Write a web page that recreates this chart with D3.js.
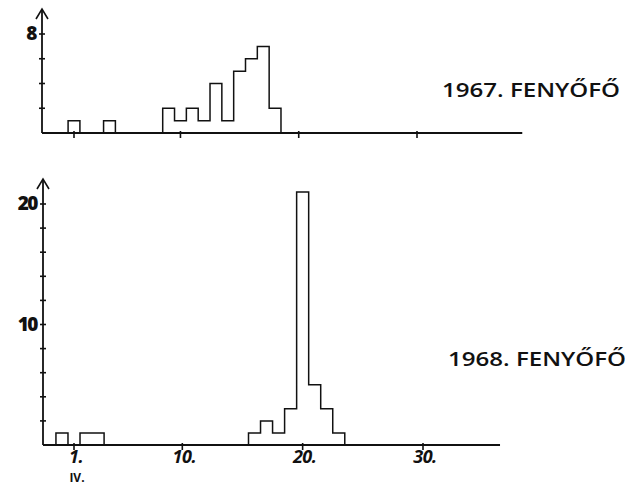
<!DOCTYPE html>
<html>
<head>
<meta charset="utf-8">
<script src="https://cdn.jsdelivr.net/npm/d3@7/dist/d3.min.js"></script>
<style>
  html, body { margin: 0; padding: 0; background: #fff; }
  svg { display: block; }
  text { fill: #111; }
</style>
</head>
<body>
<svg id="chart" width="625" height="486"></svg>
<script>
// Daily catch counts, April (day 0 = 31 March)
const days1967   = [1, 4, 9, 10, 11, 12, 13, 14, 15, 16, 17, 18];
const counts1967 = [1, 1, 2, 1, 2, 1, 4, 1, 5, 6, 7, 2];
const days1968   = [0, 2, 3, 16, 17, 18, 19, 20, 21, 22, 23];
const counts1968 = [1, 1, 1, 1, 2, 1, 3, 21, 5, 3, 1];

const xTickDays   = [1, 10, 20, 30];
const xTickLabels = ["1.", "10.", "20.", "30."];
const monthLabel  = "IV.";

const yTicks1967  = [2, 4, 6, 8];
const yLabels1967 = [8];
const yTicks1968  = [2, 4, 6, 8, 10, 12, 14, 16, 18, 20];
const yLabels1968 = [10, 20];

const titles = ["1967. FENYŐFŐ", "1968. FENYŐFŐ"];

const svg = d3.select("#chart");
const ink = "#111";

const panels = [
  {
    days: days1967, counts: counts1967, title: titles[0],
    x: d3.scaleLinear().domain([1, 30]).range([74, 417]),
    y: d3.scaleLinear().domain([0, 8]).range([133, 34]),
    axisX: 42, axisRightDay: 38.9, arrowTop: 9,
    yTicks: yTicks1967, yLabels: yLabels1967,
    titlePos: [442, 97], showXLabels: false
  },
  {
    days: days1968, counts: counts1968, title: titles[1],
    x: d3.scaleLinear().domain([1, 30]).range([74, 423]),
    y: d3.scaleLinear().domain([0, 20]).range([445, 204]),
    axisX: 43, axisRightDay: 36.4, arrowTop: 179,
    yTicks: yTicks1968, yLabels: yLabels1968,
    titlePos: [448, 366], showXLabels: true
  }
];

const line = d3.line();

panels.forEach(p => {
  const g = svg.append("g");
  const y0 = p.y(0);

  // x axis line and ticks
  g.append("line")
    .attr("x1", p.axisX).attr("x2", p.x(p.axisRightDay))
    .attr("y1", y0).attr("y2", y0)
    .attr("stroke", ink).attr("stroke-width", 1.8);

  g.selectAll(".xt").data(xTickDays).join("line")
    .attr("x1", d => p.x(d)).attr("x2", d => p.x(d))
    .attr("y1", y0 - 2).attr("y2", y0 + 5)
    .attr("stroke", ink).attr("stroke-width", 1.6);

  if (p.showXLabels) {
    g.selectAll(".xl").data(xTickDays).join("text")
      .attr("x", d => p.x(d) + 2).attr("y", y0 + 18)
      .attr("text-anchor", "middle")
      .attr("font-family", "'Open Sans', sans-serif")
      .attr("font-style", "italic").attr("font-weight", 700)
      .attr("font-size", 18)
      .attr("letter-spacing", -0.5)
      .text((d, i) => xTickLabels[i]);
    g.append("text")
      .attr("x", p.x(1) + 3).attr("y", y0 + 37)
      .attr("text-anchor", "middle")
      .attr("font-family", "'Open Sans', sans-serif")
      .attr("font-weight", 700).attr("font-size", 12)
      .text(monthLabel);
  }

  // y axis with arrow
  g.append("line")
    .attr("x1", p.axisX).attr("x2", p.axisX)
    .attr("y1", y0).attr("y2", p.arrowTop)
    .attr("stroke", ink).attr("stroke-width", 1.8);
  g.append("path")
    .attr("d", line([[p.axisX - 6, p.arrowTop + 10], [p.axisX, p.arrowTop], [p.axisX + 6, p.arrowTop + 10]]))
    .attr("fill", "none").attr("stroke", ink).attr("stroke-width", 1.6);

  g.selectAll(".yt").data(p.yTicks).join("line")
    .attr("x1", p.axisX - 3).attr("x2", p.axisX + 3)
    .attr("y1", d => p.y(d)).attr("y2", d => p.y(d))
    .attr("stroke", ink).attr("stroke-width", 1.6);

  g.selectAll(".yl").data(p.yLabels).join("text")
    .attr("x", p.axisX - 6).attr("y", d => p.y(d) + 6)
    .attr("text-anchor", "end")
    .attr("font-family", "'Open Sans', sans-serif")
    .attr("font-weight", 800).attr("font-size", 19)
    .attr("letter-spacing", -1.5)
    .text(d => d);

  // histogram outline: one stepped path per run of consecutive days
  const runs = [];
  p.days.forEach((d, i) => {
    const last = runs[runs.length - 1];
    if (last && last[last.length - 1].day === d - 1) last.push({ day: d, n: p.counts[i] });
    else runs.push([{ day: d, n: p.counts[i] }]);
  });
  runs.forEach(run => {
    const pts = [[p.x(run[0].day - 0.5), y0]];
    run.forEach(r => {
      pts.push([p.x(r.day - 0.5), p.y(r.n)]);
      pts.push([p.x(r.day + 0.5), p.y(r.n)]);
    });
    pts.push([p.x(run[run.length - 1].day + 0.5), y0]);
    g.append("path")
      .attr("d", line(pts))
      .attr("fill", "none").attr("stroke", ink)
      .attr("stroke-width", 1.5).attr("stroke-linejoin", "miter");
  });

  // panel title
  g.append("text")
    .attr("x", p.titlePos[0]).attr("y", p.titlePos[1])
    .attr("font-family", "'Open Sans', sans-serif")
    .attr("font-weight", 600).attr("font-size", 20)
    .attr("textLength", 178).attr("lengthAdjust", "spacingAndGlyphs")
    .text(p.title);
});
</script>
</body>
</html>
